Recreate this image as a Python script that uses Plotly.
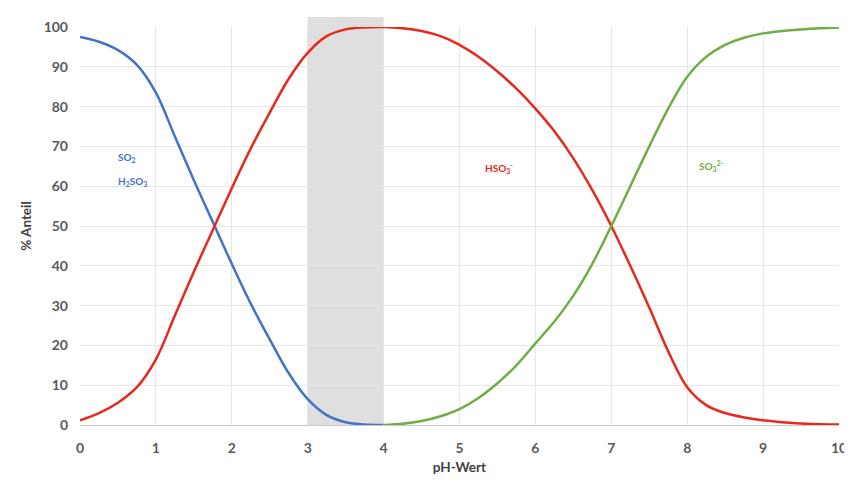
import plotly.graph_objects as go

ph_blue = [0, 0.25, 0.5, 0.75, 1, 1.25, 1.5, 1.75, 2, 2.25, 2.5, 2.75, 3, 3.25, 3.5, 3.75, 4]
so2 = [97.5, 96.3, 94.2, 90.5, 83.5, 72.5, 61.5, 51, 40.5, 30.5, 21.5, 13, 6.5, 2.5, 0.7, 0.1, 0]

ph_red = [0, 0.25, 0.5, 0.75, 1, 1.25, 1.5, 1.75, 2, 2.25, 2.5, 2.75, 3, 3.25, 3.5, 3.75, 4,
          4.25, 4.5, 4.75, 5, 5.25, 5.5, 5.75, 6, 6.25, 6.5, 6.75, 7, 7.25, 7.5, 7.75, 8,
          8.25, 8.5, 8.75, 9, 9.25, 9.5, 9.75, 10]
hso3 = [1.2, 3, 5.6, 9.5, 16.5, 27.5, 38.5, 49, 59.5, 69.5, 78.5, 87, 93.5, 97.7, 99.4, 99.9, 100,
        99.7, 99, 97.7, 95.5, 92.5, 88.8, 84.5, 79.5, 73.8, 67, 59, 50, 40, 29.5, 18.5, 9.5,
        5, 3, 1.9, 1.2, 0.7, 0.4, 0.2, 0.1]

ph_green = [4, 4.25, 4.5, 4.75, 5, 5.25, 5.5, 5.75, 6, 6.25, 6.5, 6.75, 7, 7.25, 7.5, 7.75, 8,
            8.25, 8.5, 8.75, 9, 9.25, 9.5, 9.75, 10]
so3 = [0, 0.3, 1, 2.2, 4, 6.8, 10.5, 15, 20.5, 26, 32.5, 40.5, 50, 60, 70, 79.5, 87.5,
       92.5, 95.5, 97.3, 98.4, 99, 99.4, 99.7, 99.9]

x_ticks = list(range(0, 11))
y_ticks = list(range(0, 101, 10))

band = (3, 4)

BLUE = "#4472C4"
RED = "#E8281E"
GREEN = "#70AD47"
GRAY = "#595959"
FONT = "Lato"

fig = go.Figure()
fig.add_shape(type="rect", xref="x", yref="paper", x0=band[0], x1=band[1], y0=0, y1=1.025,
              fillcolor="#DCDCDC", line=dict(width=0), layer="below", opacity=0.9)

for xs, ys, c in [(ph_blue, so2, BLUE), (ph_red, hso3, RED), (ph_green, so3, GREEN)]:
    fig.add_trace(go.Scatter(x=xs, y=ys, mode="lines",
                             line=dict(color=c, width=2.5, shape="spline", smoothing=1.0),
                             showlegend=False, hoverinfo="skip"))

ann_font = dict(family=FONT, size=10, weight="bold")
fig.add_annotation(x=0.48, y=67.1, xref="x", yref="y", showarrow=False, xanchor="left",
                   text="SO<sub>2</sub>", font=dict(**ann_font, color=BLUE))
fig.add_annotation(x=0.48, y=61.3, xref="x", yref="y", showarrow=False, xanchor="left",
                   text="H<sub>2</sub>SO<sub>3</sub>", font=dict(**ann_font, color=BLUE))
fig.add_annotation(x=5.52, y=64.5, xref="x", yref="y", showarrow=False,
                   text="HSO<sub>3</sub><sup>-</sup>", font=dict(**ann_font, color=RED))
fig.add_annotation(x=8.32, y=65.2, xref="x", yref="y", showarrow=False,
                   text="SO<sub>3</sub><sup>2-</sup>", font=dict(**ann_font, color=GREEN))

# page body has an 8px default margin, so the figure is reduced by that offset
fig.update_layout(
    width=844, height=474,
    margin=dict(l=72, r=13, t=19, b=57),
    paper_bgcolor="white", plot_bgcolor="white",
    font=dict(family=FONT, color=GRAY),
    xaxis=dict(range=[0, 10], tickvals=x_ticks, showgrid=True, gridcolor="#E6E6E6", gridwidth=1,
               zeroline=False, showline=True, linecolor="#C8C8C8", linewidth=1,
               ticks="", ticklabelstandoff=10, automargin=False,
               tickfont=dict(family=FONT, size=14, color=GRAY, weight="bold"),
               title=dict(text="pH-Wert", standoff=7,
                          font=dict(family=FONT, size=13.5, color="#404040", weight="bold"))),
    yaxis=dict(range=[0, 100], tickvals=y_ticks, showgrid=True, gridcolor="#E6E6E6", gridwidth=1,
               zeroline=False, showline=False, ticks="", ticklabelstandoff=11, automargin=False,
               tickfont=dict(family=FONT, size=14, color=GRAY, weight="bold"),
               title=dict(text="% Anteil", standoff=8,
                          font=dict(family=FONT, size=13.5, color="#404040", weight="bold"))),
)

fig.write_html("out.html")
